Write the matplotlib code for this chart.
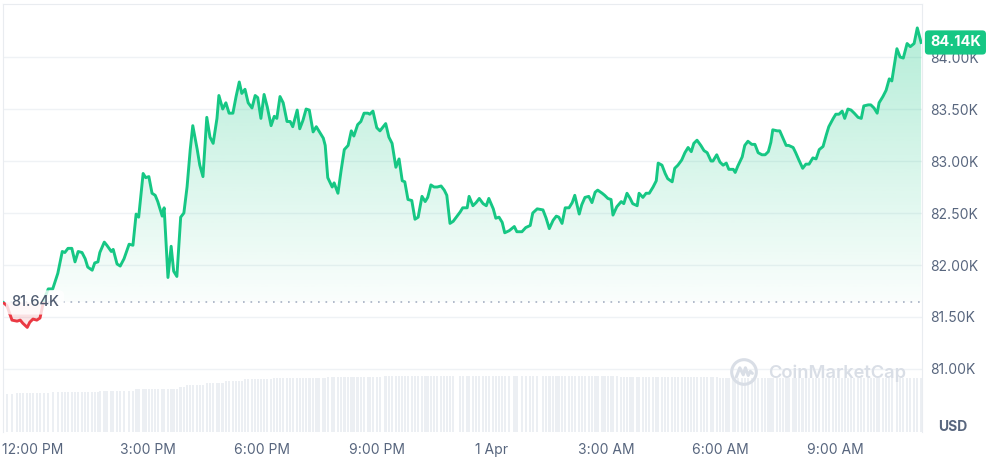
import numpy as np
import matplotlib.pyplot as plt
import matplotlib.colors as mcolors
import matplotlib.transforms as mtransforms
from matplotlib.patches import Polygon, Rectangle, Circle

# BTC / USD, last 24h. time = minutes after 12:00 PM (31 Mar)
minutes = [
    -47, -41, -33, -25, -20, -16, -9, -5, 0, 6, 11, 17, 24, 31, 39, 46, 50, 55, 61, 66,
    71, 77, 82, 86, 93, 97, 102, 105, 112, 116, 123, 126, 132, 137, 143, 151, 157, 162, 166, 173,
    177, 182, 187, 192, 196, 203, 206, 212, 217, 221, 226, 232, 237, 242, 247, 251, 258, 262, 267, 273,
    278, 283, 289, 292, 298, 303, 308, 314, 319, 324, 328, 333, 338, 344, 349, 353, 358, 363, 368, 374,
    379, 383, 388, 393, 399, 404, 408, 415, 419, 424, 429, 434, 440, 445, 449, 456, 459, 463, 470, 473,
    479, 484, 489, 495, 500, 504, 510, 515, 520, 526, 529, 534, 540, 545, 554, 559, 564, 570, 575, 580,
    584, 589, 595, 600, 605, 611, 616, 620, 625, 630, 635, 641, 646, 650, 655, 660, 671, 675, 682, 685,
    691, 696, 701, 707, 712, 716, 723, 727, 732, 737, 741, 748, 756, 760, 768, 774, 781, 785, 792, 801,
    806, 811, 817, 822, 826, 831, 836, 842, 847, 851, 858, 862, 867, 873, 878, 883, 887, 894, 898, 903,
    908, 911, 917, 924, 928, 933, 938, 942, 949, 952, 958, 963, 968, 974, 979, 982, 988, 993, 997, 1004,
    1008, 1013, 1019, 1024, 1029, 1034, 1038, 1043, 1049, 1054, 1059, 1065, 1068, 1074, 1079, 1084, 1089, 1093, 1100, 1103,
    1107, 1114, 1118, 1123, 1129, 1134, 1139, 1145, 1150, 1155, 1159, 1162, 1169, 1173, 1178, 1183, 1187, 1194, 1198, 1203,
    1209, 1214, 1219, 1225, 1230, 1235, 1241, 1246, 1250, 1257, 1261, 1266, 1271, 1275, 1280, 1285, 1290, 1296, 1301, 1305,
    1312, 1316, 1321, 1326, 1329, 1335, 1340, 1345, 1349, 1357, 1362, 1367, 1373, 1378, 1384, 1389, 1395]

price = [
    81640, 81610, 81470, 81460, 81470, 81440, 81400, 81450, 81480, 81470, 81490, 81660, 81770, 81770, 81920, 82130, 82120, 82160, 82160, 82030,
    82130, 82120, 82060, 81980, 81950, 82020, 82030, 82120, 82220, 82190, 82130, 82150, 82010, 81990, 82060, 82200, 82190, 82490, 82460, 82880,
    82840, 82850, 82690, 82670, 82610, 82470, 82550, 81880, 82180, 81940, 81890, 82460, 82500, 82750, 83110, 83340, 83110, 82960, 82850, 83420,
    83230, 83170, 83410, 83630, 83500, 83560, 83460, 83460, 83620, 83760, 83650, 83690, 83560, 83510, 83630, 83610, 83410, 83640, 83520, 83340,
    83430, 83410, 83620, 83560, 83380, 83380, 83330, 83490, 83310, 83390, 83500, 83490, 83280, 83330, 83290, 83220, 83150, 82840, 82750, 82790,
    82690, 82910, 83110, 83150, 83290, 83240, 83350, 83380, 83460, 83460, 83450, 83480, 83320, 83290, 83360, 83230, 83170, 82940, 83020, 82810,
    82800, 82630, 82620, 82440, 82460, 82660, 82610, 82650, 82770, 82750, 82750, 82760, 82720, 82670, 82400, 82420, 82510, 82550, 82550, 82660,
    82570, 82600, 82640, 82590, 82570, 82640, 82540, 82450, 82460, 82410, 82310, 82330, 82370, 82320, 82320, 82360, 82380, 82500, 82540, 82530,
    82450, 82350, 82430, 82470, 82460, 82400, 82550, 82550, 82600, 82670, 82490, 82580, 82650, 82660, 82600, 82700, 82720, 82690, 82670, 82640,
    82630, 82480, 82560, 82610, 82590, 82690, 82640, 82590, 82570, 82690, 82650, 82690, 82690, 82750, 82810, 82980, 82960, 82880, 82830, 82800,
    82930, 82960, 83010, 83080, 83130, 83090, 83170, 83200, 83150, 83100, 83080, 83000, 83000, 83060, 82990, 82960, 82980, 82920, 82920, 82890,
    82950, 83040, 83150, 83190, 83160, 83160, 83080, 83060, 83060, 83090, 83180, 83300, 83290, 83290, 83220, 83150, 83150, 83130, 83080, 83010,
    82930, 82970, 82970, 83030, 83020, 83110, 83140, 83250, 83330, 83410, 83450, 83450, 83480, 83410, 83500, 83490, 83460, 83420, 83410, 83530,
    83540, 83540, 83510, 83460, 83560, 83620, 83680, 83790, 83770, 84080, 84000, 83990, 84130, 84100, 84130, 84280, 84140]

# 24h volume (relative units)
volume = [
    38, 38, 38, 39, 39, 39, 39, 39, 39, 39, 39, 39, 39, 40, 40, 40, 40, 40, 40, 40,
    40, 40, 40, 40, 40, 40, 40, 41, 41, 41, 41, 41, 41, 41, 41, 41, 41, 43, 43, 43,
    43, 43, 43, 43, 43, 43, 43, 43, 43, 43, 43, 45, 45, 47, 47, 47, 47, 47, 47, 49,
    49, 49, 49, 49, 49, 51, 51, 51, 51, 51, 51, 53, 53, 53, 53, 53, 53, 53, 53, 53,
    54, 54, 54, 54, 54, 54, 54, 54, 54, 54, 54, 54, 54, 54, 54, 54, 54, 55, 55, 55,
    55, 55, 55, 55, 55, 55, 55, 55, 55, 55, 55, 55, 55, 55, 56, 56, 56, 56, 56, 56,
    56, 56, 56, 56, 56, 56, 56, 56, 56, 56, 56, 56, 56, 56, 56, 56, 56, 56, 56, 56,
    56, 56, 56, 56, 56, 56, 56, 56, 56, 56, 56, 56, 56, 56, 56, 56, 56, 56, 56, 56,
    56, 56, 56, 56, 56, 56, 56, 56, 56, 56, 56, 56, 56, 56, 56, 56, 56, 56, 56, 56,
    56, 56, 56, 55, 55, 55, 55, 55, 55, 55, 55, 55, 55, 55, 55, 55, 55, 55, 55, 55,
    55, 55, 55, 55, 55, 55, 55, 55, 55, 55, 55, 55, 55, 55, 54, 54, 54, 54, 54, 54,
    54, 54, 54, 54, 54, 54, 54, 54, 54, 54, 54, 54, 54, 54, 54, 54, 54, 54, 54, 54,
    54, 54, 54, 54, 54, 54, 54, 54, 54, 54, 54, 54, 54, 54, 54, 54, 54, 54, 54, 54,
    54, 54, 54, 54, 54, 54, 54, 54, 54, 54, 54, 54, 54, 54, 54, 54, 54]

tick_minutes = [0, 180, 360, 540, 720, 900, 1080, 1260]
tick_labels = ['12:00 PM', '3:00 PM', '6:00 PM', '9:00 PM', '1 Apr', '3:00 AM', '6:00 AM', '9:00 AM']
price_ticks = [81000, 81500, 82000, 82500, 83000, 83500, 84000]

green = '#16c784'
red = '#ea3943'
grey = '#58667e'

plt.rcParams['font.family'] = ['Inter', 'DejaVu Sans']

t = np.array(minutes, dtype=float)
p = np.array(price, dtype=float)
base = p[0]
xmin, xmax = -47.1, 1396.4
ymin, ymax = 80394, 84510

fig = plt.figure(figsize=(9.89, 4.58), dpi=100)
rect = [3 / 989, 26 / 458, 919 / 989, 428 / 458]

# volume behind the price
vax = fig.add_axes(rect)
vax.bar(t, volume, width=3.8, color='#eceff3', linewidth=0)
vax.set_xlim(xmin, xmax)
vax.set_ylim(0, 428)
vax.axis('off')

ax = fig.add_axes(rect)
ax.patch.set_alpha(0)

# gradient fill above the open price
up = np.maximum(p, base)
poly_up = Polygon(np.column_stack([np.r_[t[0], t, t[-1]], np.r_[base, up, base]]),
                  closed=True, transform=ax.transData, fc='none', ec='none')
ax.add_patch(poly_up)
g = np.zeros((256, 1, 4))
g[..., :3] = mcolors.to_rgb(green)
g[:, 0, 3] = np.linspace(0.32, 0.02, 256)
im = ax.imshow(g, extent=[t[0], t[-1], base, p.max()], aspect='auto', origin='upper', zorder=1)
im.set_clip_path(poly_up)

# red fill below it
dn = np.minimum(p, base)
poly_dn = Polygon(np.column_stack([np.r_[t[0], t, t[-1]], np.r_[base, dn, base]]),
                  closed=True, transform=ax.transData, fc='none', ec='none')
ax.add_patch(poly_dn)
r = np.zeros((64, 1, 4))
r[..., :3] = mcolors.to_rgb(red)
r[:, 0, 3] = np.linspace(0.2, 0.1, 64)
im2 = ax.imshow(r, extent=[t[0], t[-1], p.min(), base], aspect='auto', origin='upper', zorder=1)
im2.set_clip_path(poly_dn)

line_up, = ax.plot(t, p, color=green, lw=2.1, zorder=3, solid_joinstyle='round')
line_up.set_clip_path(Rectangle((xmin, base), xmax - xmin, 10000, transform=ax.transData))
line_dn, = ax.plot(t, p, color=red, lw=2.1, zorder=3, solid_joinstyle='round')
line_dn.set_clip_path(Rectangle((xmin, base - 10000), xmax - xmin, 10000, transform=ax.transData))

ax.axhline(base, color='#a6b0c3', lw=1.2, linestyle=(0, (1, 3.5)), zorder=2)

ax.set_xlim(xmin, xmax)
ax.set_ylim(ymin, ymax)
ax.yaxis.tick_right()
ax.set_yticks(price_ticks)
ax.set_yticklabels([f'{v / 1000:.2f}K' for v in price_ticks])
ax.set_xticks(tick_minutes)
ax.set_xticklabels(tick_labels)
ax.tick_params(length=0, colors=grey, labelsize=10)
ax.tick_params(axis='x', pad=8)
ax.tick_params(axis='y', pad=6)
ax.grid(axis='y', color='#eff2f5', lw=1)
ax.set_axisbelow(True)
ax.spines['bottom'].set_visible(False)
for s in ['left', 'top', 'right']:
    ax.spines[s].set_color('#e9ecf0')

blend = mtransforms.blended_transform_factory(ax.transAxes, ax.transData)
ax.text(0.0087, base, f'{base / 1000:.2f}K', transform=blend, ha='left', va='center',
        fontsize=10.5, fontweight='medium', color='#4f5b70', zorder=5,
        bbox=dict(boxstyle='round,pad=0.35', fc='white', ec='none', alpha=0.8))

shift = mtransforms.ScaledTranslation(8 / 100, 0, fig.dpi_scale_trans)
ax.text(1.0, p[-1], f'{p[-1] / 1000:.2f}K', transform=blend + shift, ha='left', va='center',
        fontsize=10.5, color='white', fontweight='bold', zorder=6, clip_on=False,
        bbox=dict(boxstyle='round,pad=0.35,rounding_size=0.25', fc=green, ec='none'))

fig.text(953 / 989, 1 - 427 / 458, 'USD', ha='center', va='center', fontsize=10,
         fontweight='bold', color=grey)

# watermark
fig.text(768 / 989, 1 - 373 / 458, 'CoinMarketCap', ha='left', va='center', fontsize=13.2,
         fontweight='semibold', color='#d9dee6')
lax = fig.add_axes([730 / 989, 1 - 386 / 458, 28 / 989, 28 / 458])
lax.set_xlim(-1, 1)
lax.set_ylim(-1, 1)
lax.set_aspect('equal')
lax.axis('off')
lax.add_patch(Circle((0, 0), 0.88, fill=False, ec='#d9dee6', lw=2.2))
lax.plot([-0.55, -0.3, -0.05, 0.1, 0.3, 0.45, 0.6], [-0.35, 0.3, -0.2, 0.3, -0.25, 0.05, -0.1],
         color='#d9dee6', lw=2.2, solid_capstyle='round')

plt.savefig('out.png', dpi=100)
